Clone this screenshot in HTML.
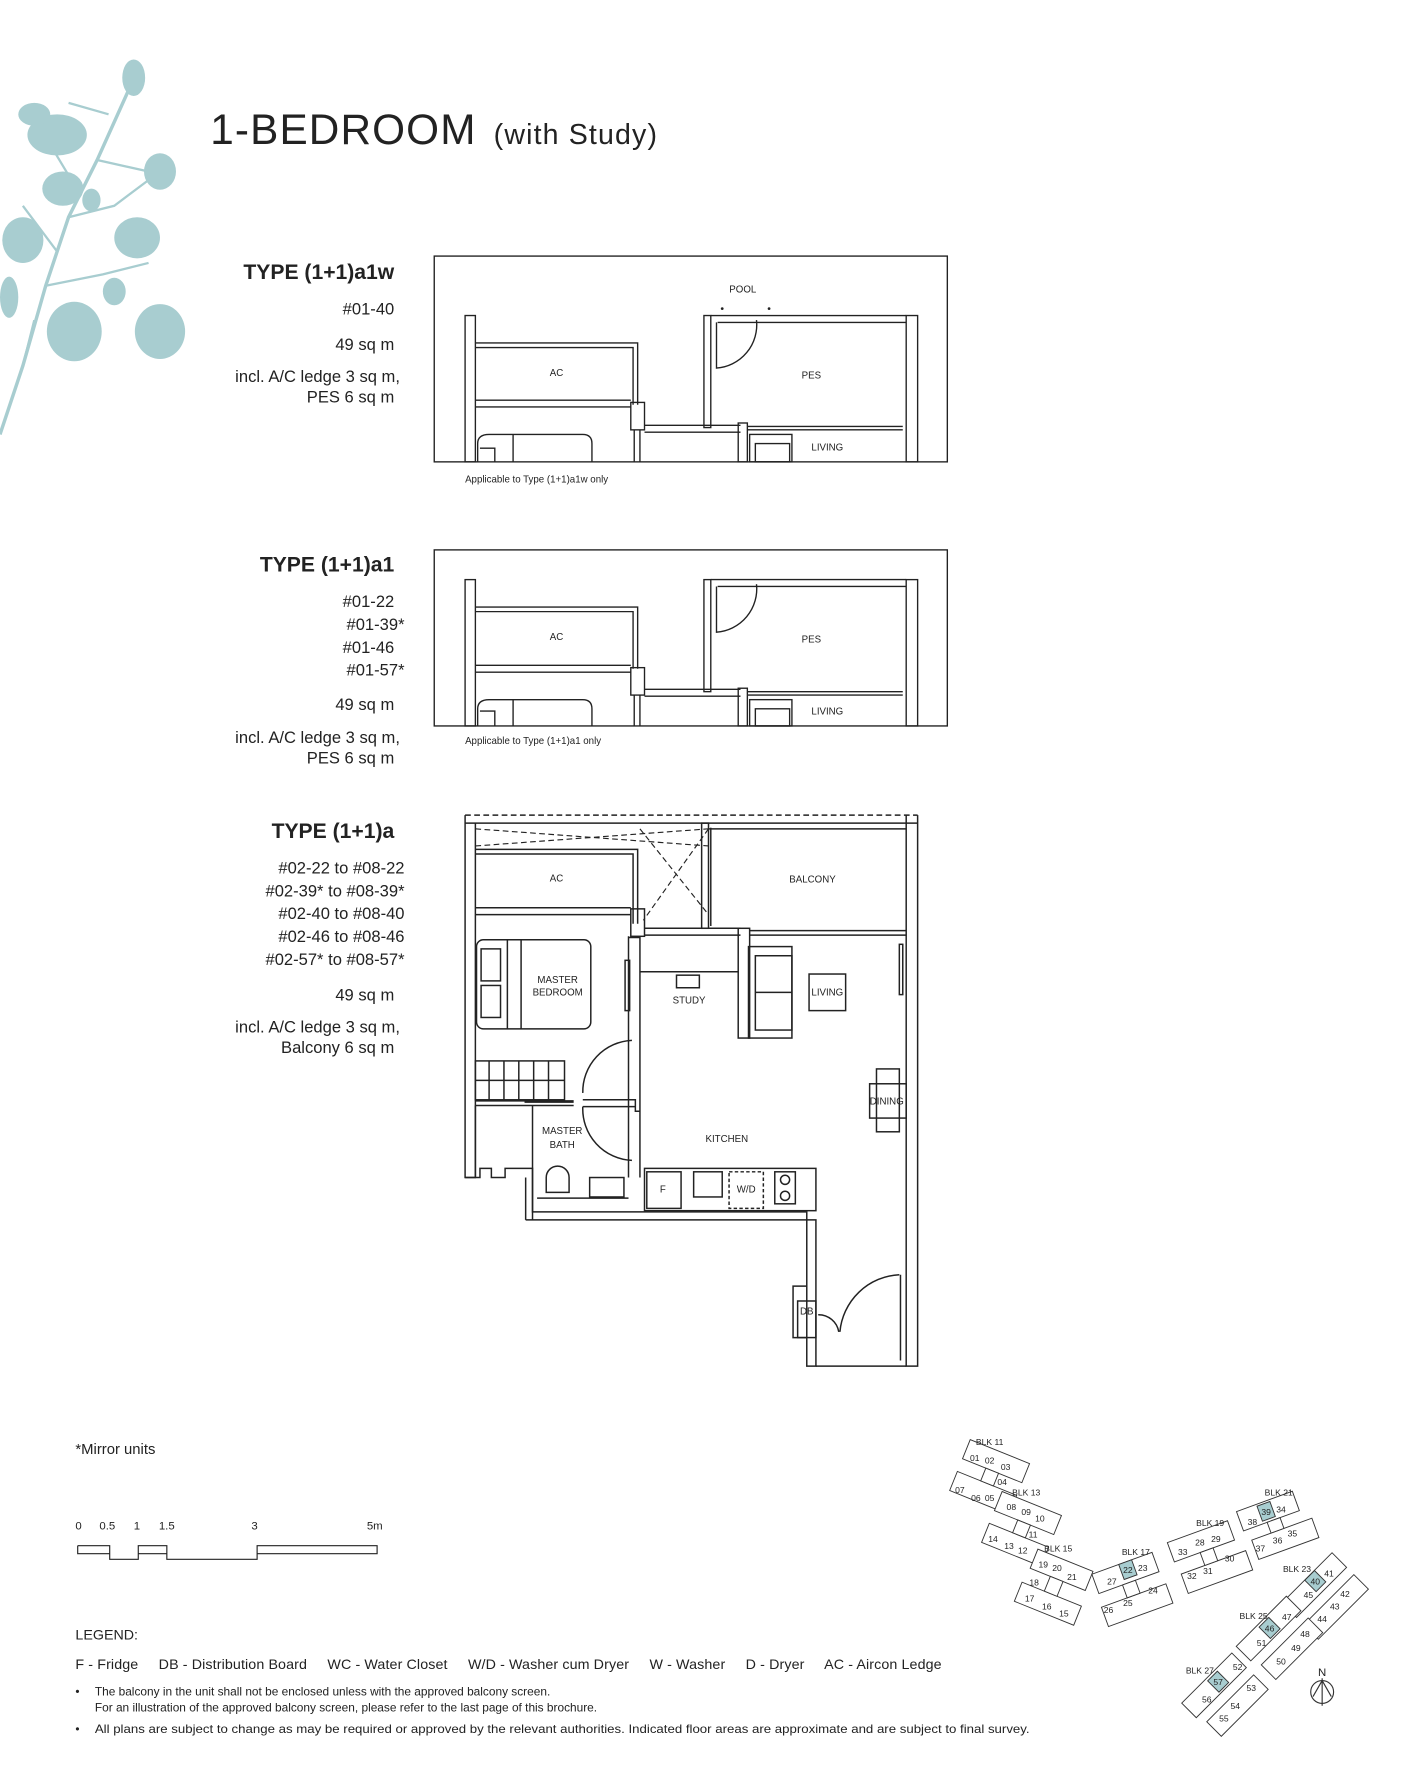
<!DOCTYPE html>
<html><head><meta charset="utf-8"><style>
html,body{margin:0;padding:0;background:#fff;}
svg{display:block;}
text{font-family:"Liberation Sans",sans-serif;fill:#222;}
</style></head><body>
<svg width="1417" height="1772" viewBox="0 0 1240 1550" preserveAspectRatio="none" xmlns="http://www.w3.org/2000/svg">
<g fill="#a8cdd0" stroke="none">
<path d="M0 380 L20 320 L40 250 L60 190 L85 140 L112 80" stroke="#a8cdd0" stroke-width="3" fill="none"/>
<path d="M40 250 L90 240 L130 230 M60 190 L100 180 L140 150 M85 140 L130 150 M20 320 L30 280 M50 220 L20 180 M70 170 L40 120 M95 100 L60 90" stroke="#a8cdd0" stroke-width="2" fill="none"/>
<ellipse cx="117" cy="68" rx="10" ry="16"/>
<ellipse cx="50" cy="118" rx="26" ry="18"/>
<ellipse cx="30" cy="100" rx="14" ry="10"/>
<ellipse cx="140" cy="150" rx="14" ry="16"/>
<ellipse cx="55" cy="165" rx="18" ry="15"/>
<ellipse cx="120" cy="208" rx="20" ry="18"/>
<ellipse cx="20" cy="210" rx="18" ry="20"/>
<ellipse cx="100" cy="255" rx="10" ry="12"/>
<ellipse cx="65" cy="290" rx="24" ry="26"/>
<ellipse cx="140" cy="290" rx="22" ry="24"/>
<ellipse cx="8" cy="260" rx="8" ry="18"/>
<ellipse cx="80" cy="175" rx="8" ry="10"/>
</g>
<text x="184" y="126" font-size="37" fill="#444" style="letter-spacing:1px">1-BEDROOM</text>
<text x="432" y="126" font-size="25" fill="#444" style="letter-spacing:1px">(with Study)</text>

<g font-size="14.5" text-anchor="end" fill="#333">
<text x="345" y="244" font-size="18.5" font-weight="bold" fill="#111">TYPE (1+1)a1w</text>
<text x="345" y="275">#01-40</text>
<text x="345" y="306">49 sq m</text>
<text x="350" y="334">incl. A/C ledge 3 sq m,</text>
<text x="345" y="352">PES 6 sq m</text>
<text x="345" y="500" font-size="18.5" font-weight="bold" fill="#111">TYPE (1+1)a1</text>
<text x="345" y="531">#01-22</text>
<text x="354" y="551">#01-39*</text>
<text x="345" y="571">#01-46</text>
<text x="354" y="591">#01-57*</text>
<text x="345" y="621">49 sq m</text>
<text x="350" y="650">incl. A/C ledge 3 sq m,</text>
<text x="345" y="668">PES 6 sq m</text>
<text x="345" y="733" font-size="18.5" font-weight="bold" fill="#111">TYPE (1+1)a</text>
<text x="354" y="764">#02-22   to #08-22  </text>
<text x="354" y="784">#02-39* to #08-39*</text>
<text x="354" y="804">#02-40   to #08-40  </text>
<text x="354" y="824">#02-46   to #08-46  </text>
<text x="354" y="844">#02-57* to #08-57*</text>
<text x="345" y="875">49 sq m</text>
<text x="350" y="903">incl. A/C ledge 3 sq m,</text>
<text x="345" y="921">Balcony 6 sq m</text>
</g>

<g fill="none" stroke="#222" stroke-width="1.2">
<rect x="380" y="224" width="449" height="180"/>
<rect x="407" y="276" width="9" height="128"/>
<path d="M416 300 H558 V354 M416 304 H554 V354"/>
<path d="M416 350 H552 M416 356 H552"/>
<rect x="552" y="352" width="12" height="24"/>
<path d="M564 372 H648 M564 378 H648"/>
<rect x="616" y="276" width="6" height="98"/>
<path d="M622 276 H793 M628 282 H793"/>
<rect x="793" y="276" width="10" height="128"/>
<path d="M627 282 V322 A38 38 0 0 0 662 280"/>
<rect x="646" y="370" width="8" height="34"/>
<path d="M654 373 H790 M654 376 H790"/>
<rect x="656" y="380" width="37" height="24"/><rect x="661" y="388" width="30" height="16"/>
<path d="M418 404 V388 Q418 380 428 380 H510 Q518 380 518 388 V404 M420 392 H433 V404 M449 380 V404"/>
<path d="M555 376 V404 M560 376 V404"/>
</g>
<circle cx="632" cy="270" r="1.2" fill="#222"/><circle cx="673" cy="270" r="1.2" fill="#222"/>
<g font-size="8.5" text-anchor="middle"><text x="650" y="256">POOL</text><text x="487" y="329">AC</text><text x="710" y="331">PES</text><text x="724" y="394">LIVING</text></g>
<text x="407" y="422" font-size="8.5">Applicable to Type (1+1)a1w only</text>

<g fill="none" stroke="#222" stroke-width="1.2">
<rect x="380" y="481" width="449" height="154"/>
<rect x="407" y="507" width="9" height="128"/>
<path d="M416 531 H558 V585 M416 535 H554 V585"/>
<path d="M416 582 H552 M416 588 H552"/>
<rect x="552" y="584" width="12" height="24"/>
<path d="M564 603 H648 M564 609 H648"/>
<rect x="616" y="507" width="6" height="98"/>
<path d="M622 507 H793 M628 513 H793"/>
<rect x="793" y="507" width="10" height="128"/>
<path d="M627 513 V553 A38 38 0 0 0 662 511"/>
<rect x="646" y="602" width="8" height="33"/>
<path d="M654 605 H790 M654 608 H790"/>
<rect x="656" y="612" width="37" height="23"/><rect x="661" y="620" width="30" height="15"/>
<path d="M418 635 V620 Q418 612 428 612 H510 Q518 612 518 620 V635 M420 622 H433 V635 M449 612 V635"/>
<path d="M555 608 V635 M560 608 V635"/>
</g>
<g font-size="8.5" text-anchor="middle"><text x="487" y="560">AC</text><text x="710" y="562">PES</text><text x="724" y="625">LIVING</text></g>
<text x="407" y="651" font-size="8.5">Applicable to Type (1+1)a1 only</text>

<g fill="none" stroke="#222" stroke-width="1.3">
<path d="M407 713 H803" stroke-dasharray="5 3"/>
<path d="M407 720 H803"/>
<path d="M416 725 L620 740 M416 740 L620 725" stroke-dasharray="5 3" stroke-width="1"/>
<path d="M560 725 L620 800 M620 725 L563 805" stroke-dasharray="5 3" stroke-width="1"/>
<path d="M407 713 V1030 H416 V1022 M416 720 V1022"/>
<path d="M407 1030 H420 V1022 H430 V1030 H442 V1022 H466 V1060 H706 V1195 H714 V1067 H460"/>
<path d="M466 1030 V1067 M460 1030 V1067"/>
<path d="M793 713 V1195 H803 V713"/>
<path d="M714 1195 H793"/>
<path d="M706 1125 H694 V1170 H706 M694 1125 V1170"/>
<rect x="698" y="1138" width="16" height="32"/>
<path d="M416 743 H558 V808 M416 747 H554 V808"/>
<path d="M416 794 H552 M416 800 H552"/>
<rect x="552" y="795" width="12" height="24"/>
<path d="M564 812 H648 M564 818 H648"/>
<rect x="614" y="720" width="6" height="92"/>
<path d="M620 725 H793"/>
<path d="M622 724 V810"/>
<rect x="646" y="812" width="10" height="96"/>
<path d="M656 814 H793 M656 818 H793"/>
<path d="M550 819 V1030 M560 819 V1030 M550 820 H560"/>
<rect x="547" y="840" width="4" height="44"/>
<path d="M560 850 H646"/>
<rect x="592" y="853" width="20" height="11"/>
<rect x="417" y="822" width="100" height="78" rx="6"/>
<rect x="421" y="830" width="17" height="28"/><rect x="421" y="862" width="17" height="28"/>
<path d="M444 822 V900 M456 822 V900"/>
<rect x="416" y="928" width="78" height="34"/>
<path d="M416 945 H494 M428 928 V962 M441 928 V962 M454 928 V962 M467 928 V962 M480 928 V962"/>
<path d="M416 963 H502 M416 967 H502 M459 964 H502"/>
<path d="M510 956 A45 45 0 0 1 553 910"/>
<path d="M510 962 H556 V972 H560 M510 968 H556"/>
<path d="M510 968 A45 45 0 0 0 553 1015"/>
<path d="M466 967 V1030 M416 967 V1030"/>
<path d="M478 1043 V1030 A10 10 0 0 1 498 1030 V1043 Z"/>
<rect x="516" y="1030" width="30" height="17"/>
<path d="M470 1048 H550"/>
<rect x="564" y="1022" width="150" height="37"/>
<rect x="566" y="1025" width="30" height="32"/>
<rect x="607" y="1025" width="25" height="22"/>
<rect x="638" y="1025" width="30" height="32" stroke-dasharray="3 2"/>
<rect x="678" y="1025" width="18" height="28"/>
<circle cx="687" cy="1032" r="4"/><circle cx="687" cy="1046" r="4"/>
<rect x="655" y="828" width="38" height="80"/>
<rect x="661" y="836" width="32" height="65"/>
<path d="M661 868 H693"/>
<rect x="708" y="852" width="32" height="32"/>
<rect x="787" y="826" width="3" height="44"/>
<rect x="767" y="935" width="20" height="55"/>
<rect x="761" y="948" width="32" height="30"/>
<path d="M788 1115 V1190 M787 1115 A55 55 0 0 0 735 1165 M716 1150 A18 18 0 0 1 734 1165"/>
</g>
<g font-size="8.5" text-anchor="middle">
<text x="487" y="771">AC</text><text x="711" y="772">BALCONY</text>
<text x="488" y="860">MASTER</text><text x="488" y="871">BEDROOM</text>
<text x="603" y="878">STUDY</text><text x="724" y="871">LIVING</text>
<text x="776" y="966">DINING</text><text x="636" y="999">KITCHEN</text>
<text x="492" y="992">MASTER</text><text x="492" y="1004">BATH</text>
<text x="580" y="1043">F</text><text x="653" y="1043">W/D</text><text x="706" y="1150">DB</text>
</g>

<text x="66" y="1272" font-size="13">*Mirror units</text>
<g font-size="10"><text x="66" y="1338">0</text><text x="87" y="1338">0.5</text><text x="117" y="1338">1</text><text x="139" y="1338">1.5</text><text x="220" y="1338">3</text><text x="321" y="1338">5m</text></g>
<path d="M68 1352 H96 V1364 H121 V1352 H146 V1364 H225 V1352 H330 V1359 H225 M68 1352 V1359 H96 M121 1359 H146" fill="none" stroke="#222" stroke-width="1"/>

<text x="66" y="1434" font-size="12.5">LEGEND:</text>
<text x="66" y="1460" font-size="12.5" xml:space="preserve" textLength="758" lengthAdjust="spacing">F - Fridge     DB - Distribution Board     WC - Water Closet     W/D - Washer cum Dryer     W - Washer     D - Dryer     AC - Aircon Ledge</text>
<g font-size="10.4">
<text x="66" y="1483">•</text><text x="83" y="1483">The balcony in the unit shall not be enclosed unless with the approved balcony screen.</text>
<text x="83" y="1497">For an illustration of the approved balcony screen, please refer to the last page of this brochure.</text>
<text x="66" y="1516">•</text><text x="83" y="1516" textLength="818" lengthAdjust="spacingAndGlyphs">All plans are subject to change as may be required or approved by the relevant authorities. Indicated floor areas are approximate and are subject to final survey.</text>
</g>

<g fill="#fff" stroke="#333" stroke-width="0.8">
<g transform="rotate(22 866 1292)"><rect x="838" y="1268" width="56" height="18"/><rect x="838" y="1298" width="56" height="18"/><rect x="860" y="1286" width="12" height="12"/></g>
<g transform="rotate(22 893 1337)"><rect x="866" y="1313" width="56" height="18"/><rect x="866" y="1343" width="56" height="18"/><rect x="888" y="1331" width="12" height="12"/></g>
<g transform="rotate(22 920 1390)"><rect x="896" y="1362" width="52" height="18"/><rect x="894" y="1394" width="56" height="18"/><rect x="915" y="1380" width="12" height="14"/></g>
<g transform="rotate(-20 990 1390)"><rect x="962" y="1366" width="56" height="18"/><rect x="960" y="1396" width="60" height="18"/><rect x="984" y="1384" width="12" height="12"/></g>
<g transform="rotate(-20 1057 1362)"><rect x="1028" y="1338" width="56" height="18"/><rect x="1030" y="1368" width="60" height="18"/><rect x="1052" y="1356" width="12" height="12"/></g>
<g transform="rotate(-20 1114 1334)"><rect x="1088" y="1312" width="52" height="18"/><rect x="1092" y="1340" width="56" height="18"/><rect x="1110" y="1330" width="12" height="10"/></g>
<g transform="rotate(-45 1160 1395)"><rect x="1128" y="1373" width="62" height="18"/><rect x="1128" y="1400" width="62" height="18"/></g>
<g transform="rotate(-45 1120 1433)"><rect x="1088" y="1411" width="62" height="18"/><rect x="1092" y="1438" width="58" height="18"/></g>
<g transform="rotate(-45 1073 1482)"><rect x="1040" y="1460" width="62" height="18"/><rect x="1044" y="1487" width="58" height="18"/></g>
</g>
<g fill="#a8cdd0" stroke="#333" stroke-width="0.8">
<rect x="981" y="1366" width="12" height="14" transform="rotate(-20 987 1373)"/>
<rect x="1102" y="1315" width="12" height="14" transform="rotate(-20 1108 1322)"/>
<rect x="1145" y="1376" width="12" height="14" transform="rotate(-45 1151 1383)"/>
<rect x="1105" y="1417" width="12" height="14" transform="rotate(-45 1111 1424)"/>
<rect x="1060" y="1464" width="12" height="14" transform="rotate(-45 1066 1471)"/>
</g>
<g font-size="7.5" text-anchor="middle" fill="#333">
<text x="866" y="1264">BLK 11</text><text x="898" y="1308">BLK 13</text><text x="926" y="1357">BLK 15</text><text x="994" y="1360">BLK 17</text><text x="1059" y="1335">BLK 19</text><text x="1119" y="1308">BLK 21</text><text x="1135" y="1375">BLK 23</text><text x="1097" y="1416">BLK 25</text><text x="1050" y="1464">BLK 27</text>
<text x="853" y="1278">01</text><text x="866" y="1280">02</text><text x="880" y="1286">03</text><text x="877" y="1299">04</text><text x="840" y="1306">07</text><text x="854" y="1313">06</text><text x="866" y="1313">05</text>
<text x="885" y="1321">08</text><text x="898" y="1325">09</text><text x="910" y="1331">10</text><text x="904" y="1345">11</text><text x="869" y="1349">14</text><text x="883" y="1355">13</text><text x="895" y="1359">12</text>
<text x="913" y="1371">19</text><text x="925" y="1374">20</text><text x="938" y="1382">21</text><text x="905" y="1387">18</text><text x="901" y="1401">17</text><text x="916" y="1408">16</text><text x="931" y="1414">15</text>
<text x="987" y="1376">22</text><text x="1000" y="1374">23</text><text x="973" y="1386">27</text><text x="970" y="1411">26</text><text x="987" y="1405">25</text><text x="1009" y="1394">24</text>
<text x="1050" y="1352">28</text><text x="1064" y="1349">29</text><text x="1035" y="1360">33</text><text x="1043" y="1381">32</text><text x="1057" y="1377">31</text><text x="1076" y="1366">30</text>
<text x="1108" y="1325">39</text><text x="1121" y="1323">34</text><text x="1096" y="1334">38</text><text x="1103" y="1357">37</text><text x="1118" y="1350">36</text><text x="1131" y="1344">35</text>
<text x="1151" y="1386">40</text><text x="1163" y="1379">41</text><text x="1145" y="1398">45</text><text x="1177" y="1397">42</text><text x="1168" y="1408">43</text><text x="1157" y="1419">44</text>
<text x="1111" y="1427">46</text><text x="1126" y="1417">47</text><text x="1104" y="1440">51</text><text x="1142" y="1432">48</text><text x="1134" y="1444">49</text><text x="1121" y="1456">50</text>
<text x="1066" y="1474">57</text><text x="1083" y="1461">52</text><text x="1056" y="1489">56</text><text x="1095" y="1479">53</text><text x="1081" y="1495">54</text><text x="1071" y="1506">55</text>
<text x="1157" y="1466" font-size="10">N</text>
</g>
<g fill="none" stroke="#333" stroke-width="1"><circle cx="1157" cy="1480" r="10"/><path d="M1157 1468 V1492 M1149 1484 L1157 1470 L1165 1484"/></g>
</svg>
</body></html>
